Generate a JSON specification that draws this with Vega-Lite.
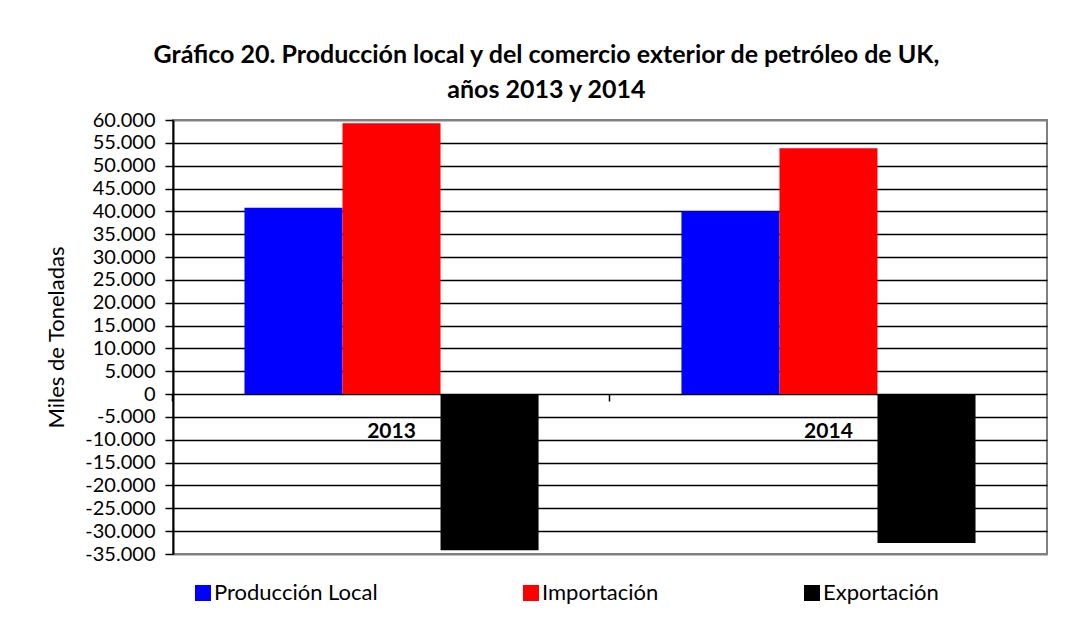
{
  "$schema": "https://vega.github.io/schema/vega-lite/v6.json",
  "autosize": "none",
  "width": 874,
  "height": 434,
  "padding": {"left": 173, "top": 120, "right": 30, "bottom": 65},
  "background": "white",
  "title": {
    "text": ["Gráfico 20. Producción local y del comercio exterior de petróleo de UK,", "años 2013 y 2014"],
    "font": "Lato",
    "fontSize": 25,
    "fontWeight": "bold",
    "color": "black",
    "anchor": "middle",
    "frame": "bounds",
    "lineHeight": 35,
    "offset": 7
  },
  "config": {
    "locale": {"number": {"decimal": ",", "thousands": ".", "grouping": [3], "currency": ["", ""], "minus": "-"}},
    "view": {"stroke": "#808080", "strokeWidth": 2},
    "axis": {"labelFont": "Lato", "titleFont": "Lato", "labelColor": "black", "titleColor": "black"}
  },
  "data": {
    "values": [
      {"anio": "2013", "serie": "Producción Local", "valor": 40800},
      {"anio": "2013", "serie": "Importación", "valor": 59300},
      {"anio": "2013", "serie": "Exportación", "valor": -34200},
      {"anio": "2014", "serie": "Producción Local", "valor": 40000},
      {"anio": "2014", "serie": "Importación", "valor": 53800},
      {"anio": "2014", "serie": "Exportación", "valor": -32600}
    ]
  },
  "layer": [
    {
      "mark": {"type": "bar"},
      "encoding": {
        "x": {
          "field": "anio", "type": "nominal",
          "scale": {"paddingInner": 0.327, "paddingOuter": 0.1636},
          "axis": {
            "orient": "bottom", "offset": -160, "title": null, "labels": false,
            "domain": false, "grid": false, "ticks": true, "bandPosition": -0.2432,
            "tickSize": 7, "tickColor": "black", "tickWidth": 1.5
          }
        },
        "xOffset": {
          "field": "serie", "type": "nominal",
          "sort": ["Producción Local", "Importación", "Exportación"],
          "scale": {"paddingInner": 0, "paddingOuter": 0}
        },
        "y": {
          "field": "valor", "type": "quantitative",
          "scale": {"domain": [-35000, 60000], "nice": false, "zero": false},
          "axis": {
            "title": "Miles de Toneladas",
            "titleFontSize": 22, "titleFontWeight": "normal", "titlePadding": 16,
            "values": [-35000, -30000, -25000, -20000, -15000, -10000, -5000, 0, 5000, 10000, 15000, 20000, 25000, 30000, 35000, 40000, 45000, 50000, 55000, 60000],
            "tickCount": 40,
            "format": ",d",
            "labelFontSize": 20, "labelPadding": 10, "labelOverlap": false, "labelBound": false,
            "tickSize": 8, "tickColor": "black", "tickWidth": 1.5,
            "domainColor": "black", "domainWidth": 2,
            "grid": true,
            "gridColor": {"condition": {"test": "datum.value === 60000 || datum.value === -35000", "value": "#808080"}, "value": "black"},
            "gridWidth": {"condition": {"test": "datum.value === 60000 || datum.value === -35000", "value": 2}, "value": 1.5},
            "gridOpacity": 1
          }
        },
        "color": {
          "field": "serie", "type": "nominal",
          "sort": ["Producción Local", "Importación", "Exportación"],
          "scale": {"domain": ["Producción Local", "Importación", "Exportación"], "range": ["#0000FF", "#FF0000", "#000000"]},
          "legend": {
            "title": null, "orient": "none", "direction": "horizontal",
            "legendX": 19, "legendY": 462,
            "symbolType": "square", "symbolSize": 256, "symbolStrokeWidth": 0, "symbolOpacity": 1,
            "labelFont": "Lato", "labelFontSize": 22, "labelColor": "black", "labelOffset": 0, "labelLimit": 400,
            "columnPadding": 142, "padding": 0
          }
        }
      }
    },
    {
      "mark": {"type": "text", "font": "Lato", "fontSize": 21, "fontWeight": "bold", "color": "black", "dy": 38, "baseline": "middle"},
      "encoding": {
        "x": {"field": "anio", "type": "nominal"},
        "y": {"datum": 0},
        "text": {"field": "anio"}
      },
      "data": {"values": [{"anio": "2013"}, {"anio": "2014"}]}
    }
  ]
}
